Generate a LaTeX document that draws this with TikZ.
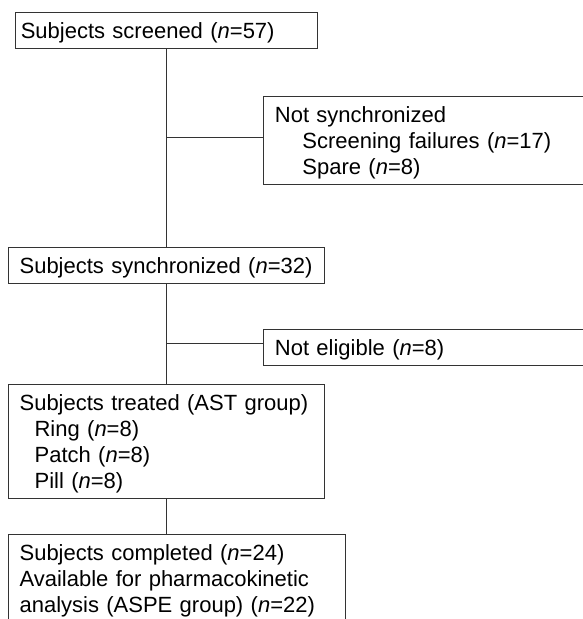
\documentclass[tikz,border=0pt]{standalone}
\usepackage{fontspec}
\setmainfont{Liberation Sans}
\usetikzlibrary{positioning}

\newcommand{\lstrut}{\rule[-5pt]{0pt}{26pt}}

\tikzset{
  flowbox/.style={draw=black!80, line width=0.8pt, anchor=north west, align=left,
    inner xsep=11pt, inner ysep=5pt, font=\fontsize{22}{26}\selectfont,
    execute at begin node=\lstrut, execute at end node=\lstrut},
  link/.style={draw=black!80, line width=0.8pt}
}

\begin{document}
\begin{tikzpicture}[x=1pt, y=-1pt]
\useasboundingbox (0,0) rectangle (583,619);
\clip (0,0) rectangle (583,619);

\node[flowbox, inner xsep=5.5pt, text width=291.5pt] (screened) at (14.9,12.3)
  {Subjects screened (\textit{n}=57)};
\node[flowbox, inner xsep=12pt, text width=340pt] (notsync) at (262.5,96)
  {Not synchronized\\\hspace*{27.5pt}Screening failures (\textit{n}=17)\\\hspace*{27.5pt}Spare (\textit{n}=8)};
\node[flowbox, text width=293.6pt] (synced) at (8.2,247)
  {Subjects synchronized (\textit{n}=32)};
\node[flowbox, inner xsep=12pt, text width=340pt] (noteligible) at (262.5,329.3)
  {Not eligible (\textit{n}=8)};
\node[flowbox, text width=293.6pt] (treated) at (8.2,384.3)
  {Subjects treated (AST group)\\\hspace*{15pt}Ring (\textit{n}=8)\\\hspace*{15pt}Patch (\textit{n}=8)\\\hspace*{15pt}Pill (\textit{n}=8)};
\node[flowbox, text width=314.4pt] (completed) at (8.2,534.3)
  {Subjects completed (\textit{n}=24)\\Available for pharmacokinetic\\analysis (ASPE group) (\textit{n}=22)};

% branch points on the trunk
\coordinate (b1) at (166.1,137);
\coordinate (b2) at (166.1,343.3);

\path[link]
  (screened.south) -- (screened.south |- synced.north)
  (b1) -- (b1 -| notsync.west)
  (synced.south) -- (synced.south |- treated.north)
  (b2) -- (b2 -| noteligible.west)
  (treated.south) -- (treated.south |- completed.north);
\end{tikzpicture}
\end{document}
